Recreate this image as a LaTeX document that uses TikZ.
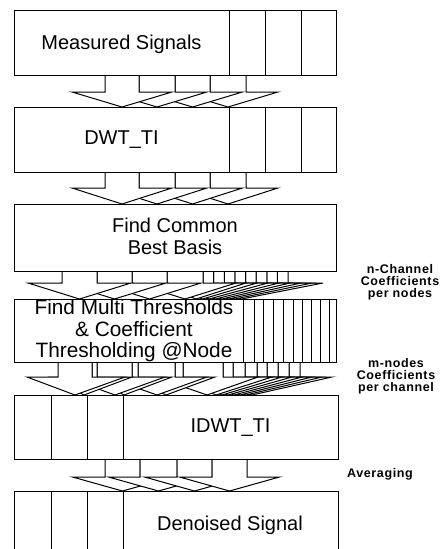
\documentclass[tikz,border=0pt]{standalone}
\usepackage{fontspec}
\setmainfont{Liberation Sans}
\newcommand{\myarrow}[8]{% xl xr apex hl hr ytop ybase yapex
  \path[arr] (#1,#6) -- (#1,#7) -- (#4,#7) -- (#3,#8) -- (#5,#7) -- (#2,#7) -- (#2,#6);}
\begin{document}
\begin{tikzpicture}[x=1pt,y=-1pt,line width=1pt,
  box/.style={draw,rectangle,inner sep=0pt,outer sep=0pt,anchor=north west},
  txt/.style={font=\fontsize{20}{22}\selectfont,align=center,inner sep=0pt},
  lbl/.style={font=\fontsize{12.5}{11.8}\selectfont\bfseries\addfontfeatures{LetterSpace=5},align=center,inner sep=0pt},
  arr/.style={draw,fill=white,line join=miter}]
\useasboundingbox (0,0) rectangle (444,549);

% ---- group 1 (first arrow on top)
\myarrow{210}{246}{228}{178}{278}{75}{92}{107}
\myarrow{175}{210}{192.5}{142.5}{242.5}{75}{92}{107}
\myarrow{139}{175}{157}{107}{207}{75}{92}{107}
\myarrow{105}{139}{122}{72}{172}{75}{92}{107}
% ---- group 2
\myarrow{210}{246}{228}{178}{278}{172}{188}{204}
\myarrow{175}{210}{192.5}{142.5}{242.5}{172}{188}{204}
\myarrow{139}{175}{157}{107}{207}{172}{188}{204}
\myarrow{105}{139}{122}{72}{172}{172}{188}{204}
% ---- group 3
\myarrow{277.4}{288}{241.5}{196.5}{323}{271}{283}{299}
\myarrow{266.8}{277.4}{235}{190}{312}{271}{283}{299}
\myarrow{256.1}{266.8}{228.5}{183.5}{301}{271}{283}{299}
\myarrow{245.5}{256.1}{222}{177}{290}{271}{283}{299}
\myarrow{234.9}{245.5}{215.5}{170.5}{279}{271}{283}{299}
\myarrow{224.3}{234.9}{209}{164}{268}{271}{283}{299}
\myarrow{213.6}{224.3}{202.5}{157.5}{257}{271}{283}{299}
\myarrow{203}{213.6}{196}{151}{246}{271}{283}{299}
\myarrow{167}{203}{185}{134}{236}{271}{283}{299}
\myarrow{132}{167}{149.5}{98}{201}{271}{283}{299}
\myarrow{97}{132}{114.5}{63}{166}{271}{283}{299}
\myarrow{62}{97}{79.5}{28}{131}{271}{283}{299}
% ---- group 4
\myarrow{289}{300}{252}{207}{332}{362}{377}{395}
\myarrow{278}{289}{246}{201}{322}{362}{377}{395}
\myarrow{267}{278}{240}{195}{312}{362}{377}{395}
\myarrow{257}{267}{234}{189}{302}{362}{377}{395}
\myarrow{245}{257}{228}{183}{292}{362}{377}{395}
\myarrow{233}{245}{222}{177}{282}{362}{377}{395}
\myarrow{223}{233}{216}{171}{272}{362}{377}{395}
\myarrow{183}{223}{207}{155}{258}{362}{377}{395}
\myarrow{175}{183}{166}{130}{215}{362}{377}{395}
\myarrow{138}{175}{157}{106}{207}{362}{377}{395}
\myarrow{132}{138}{124}{90}{172}{362}{377}{395}
\myarrow{97}{132}{115}{65}{165}{362}{377}{395}
\myarrow{92}{97}{84}{50}{132}{362}{377}{395}
\myarrow{58}{92}{75}{27}{125}{362}{377}{395}
% ---- averaging (last arrow on top)
\myarrow{105}{140}{122.5}{72.5}{172.5}{459}{477}{491}
\myarrow{140}{177}{158.5}{108.5}{208.5}{459}{477}{491}
\myarrow{177}{212}{194.5}{144.5}{244.5}{459}{477}{491}
\myarrow{212}{247}{229.5}{179.5}{279.5}{459}{477}{491}

% ---- boxes
\node[box,minimum width=322pt,minimum height=65pt] (b1) at (14,10) {};
\node[box,minimum width=322pt,minimum height=65pt] (b2) at (14,107) {};
\node[box,minimum width=322pt,minimum height=67pt] (b3) at (14,204) {};
\node[box,minimum width=322pt,minimum height=63pt] (b4) at (14,299) {};
\node[box,minimum width=324pt,minimum height=64pt] (b5) at (14,395) {};
\node[box,minimum width=324pt,minimum height=70pt] (b6) at (14,491) {};

\foreach \x in {229,265,301} {
  \draw (\x,10) -- (\x,75);
  \draw (\x,107) -- (\x,172);
}
\foreach \x in {243,254,263,273,283,293,302,311,320,329} {
  \draw[line width=0.7pt] (\x,299) -- (\x,362);
}
\foreach \x in {51,87,123} {
  \draw (\x,395) -- (\x,459);
  \draw (\x,491) -- (\x,561);
}

% ---- texts
\node[txt] (t1) at (121.5,44) {Measured Signals};
\node[txt] (t2) at (121.5,140) {DWT\_TI};
\node[txt] (t3) at (175,236) {Find Common\\Best Basis};
\node[txt,font=\fontsize{20.8}{21.5}\selectfont] (t4) at (134,331) {Find Multi Thresholds\\\& Coefficient\\Thresholding @Node};
\node[txt] (t5) at (230.5,428) {IDWT\_TI};
\node[txt] (t6) at (230,525) {Denoised Signal};

\node[lbl] (l1) at (400,282) {n-Channel\\Coefficients\\per nodes};
\node[lbl] (l2) at (396,376) {m-nodes\\Coefficients\\per channel};
\node[lbl] (l3) at (380,474) {Averaging};
\end{tikzpicture}
\end{document}
